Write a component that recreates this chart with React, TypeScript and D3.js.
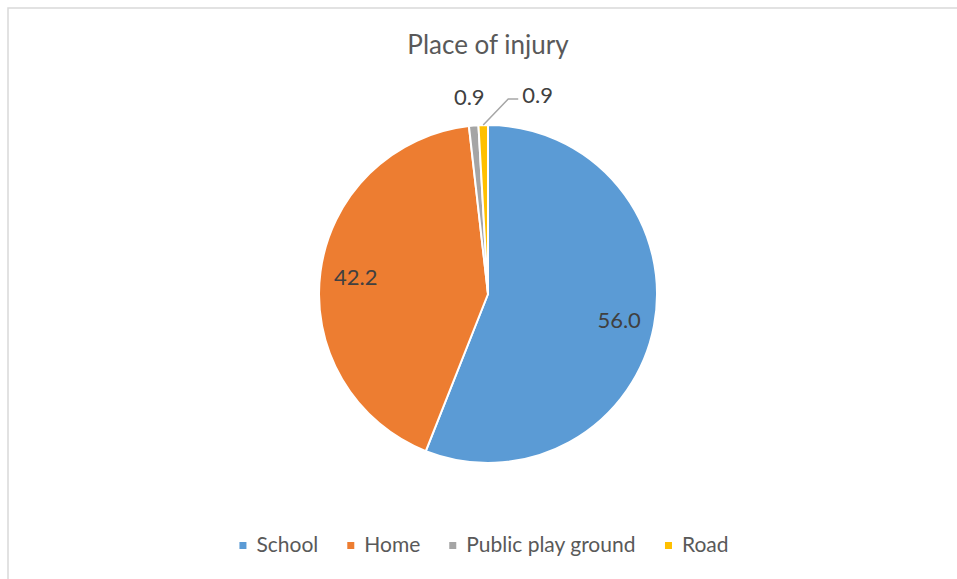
import React from "react";
import * as d3 from "d3";

const categories = ["School", "Home", "Public play ground", "Road"];
const values = [56.0, 42.2, 0.9, 0.9];
const labels = ["56.0", "42.2", "0.9", "0.9"];
const colors = ["#5B9BD5", "#ED7D31", "#A5A5A5", "#FFC000"];
const title = "Place of injury";

const W = 957;
const H = 579;
const cx = 488;
const cy = 294;
const R = 169;
const FONT = "Lato, 'Open Sans', sans-serif";
const LABEL_FONT = 22;

export default function App() {
  const pie = d3.pie<number>().sort(null).value((d) => d);
  const arcs = pie(values);
  const arc = d3.arc<d3.PieArcDatum<number>>().innerRadius(0).outerRadius(R);
  const inLabel = d3.arc<d3.PieArcDatum<number>>().innerRadius(R * 0.79).outerRadius(R * 0.79);
  const outLabel = d3.arc<d3.PieArcDatum<number>>().innerRadius(R * 1.17).outerRadius(R * 1.17);
  const edge = d3.arc<d3.PieArcDatum<number>>().innerRadius(R).outerRadius(R);

  // legend layout
  const legendFont = 21;
  const sq = 7;
  const sqGap = 10;
  const itemGap = 29;
  const ctx = typeof document !== "undefined" ? document.createElement("canvas").getContext("2d") : null;
  if (ctx) ctx.font = `${legendFont}px Lato`;
  const widths = categories.map((c) => (ctx ? ctx.measureText(c).width : c.length * 10));
  const total = widths.reduce((a, w) => a + sq + sqGap + w, 0) + itemGap * (categories.length - 1);
  let lx = 484 - total / 2;
  const legendItems = categories.map((c, i) => {
    const x = lx;
    lx += sq + sqGap + widths[i] + itemGap;
    return { c, x, i };
  });

  return (
    <div style={{ position: "absolute", left: 0, top: 0, width: W, height: H, background: "#fff" }}>
      <svg width={W} height={H} style={{ display: "block" }}>
        <rect x={0} y={0} width={W} height={H} fill="#fff" />
        <rect x={8} y={8} width={W + 10} height={H + 10} fill="none" stroke="#D9D9D9" strokeWidth={1.5} />
        <text x={488} y={54} textAnchor="middle" fontFamily={FONT} fontSize={26} fill="#595959">
          {title}
        </text>
        <g transform={`translate(${cx},${cy})`}>
          {arcs.map((a, i) => (
            <path key={i} d={arc(a) || ""} fill={colors[i]} stroke="#fff" strokeWidth={2} strokeLinejoin="round" />
          ))}
          {arcs.map((a, i) => {
            if (i < 2) {
              const [x, y] = inLabel.centroid(a);
              return (
                <text key={"l" + i} x={x} y={y} textAnchor="middle" dominantBaseline="central" fontFamily={FONT} fontSize={LABEL_FONT} fill="#404040">
                  {labels[i]}
                </text>
              );
            }
            if (i === 2) {
              const [x, y] = outLabel.centroid(a);
              return (
                <text key={"l" + i} x={x - 2} y={y} textAnchor="middle" dominantBaseline="central" fontFamily={FONT} fontSize={LABEL_FONT} fill="#404040">
                  {labels[i]}
                </text>
              );
            }
            const [ex, ey] = edge.centroid(a);
            const elbowX = ex + 25;
            const elbowY = ey - 26;
            const endX = elbowX + 10;
            return (
              <g key={"l" + i}>
                <polyline points={`${ex},${ey} ${elbowX},${elbowY} ${endX},${elbowY}`} fill="none" stroke="#A6A6A6" strokeWidth={1.5} />
                <text x={endX + 4} y={elbowY - 5} textAnchor="start" dominantBaseline="central" fontFamily={FONT} fontSize={LABEL_FONT} fill="#404040">
                  {labels[i]}
                </text>
              </g>
            );
          })}
        </g>
        <g>
          {legendItems.map(({ c, x, i }) => (
            <g key={c}>
              <rect x={x} y={542} width={sq} height={sq} fill={colors[i]} />
              <text x={x + sq + sqGap} y={552} fontFamily={FONT} fontSize={legendFont} fill="#595959">
                {c}
              </text>
            </g>
          ))}
        </g>
      </svg>
    </div>
  );
}
